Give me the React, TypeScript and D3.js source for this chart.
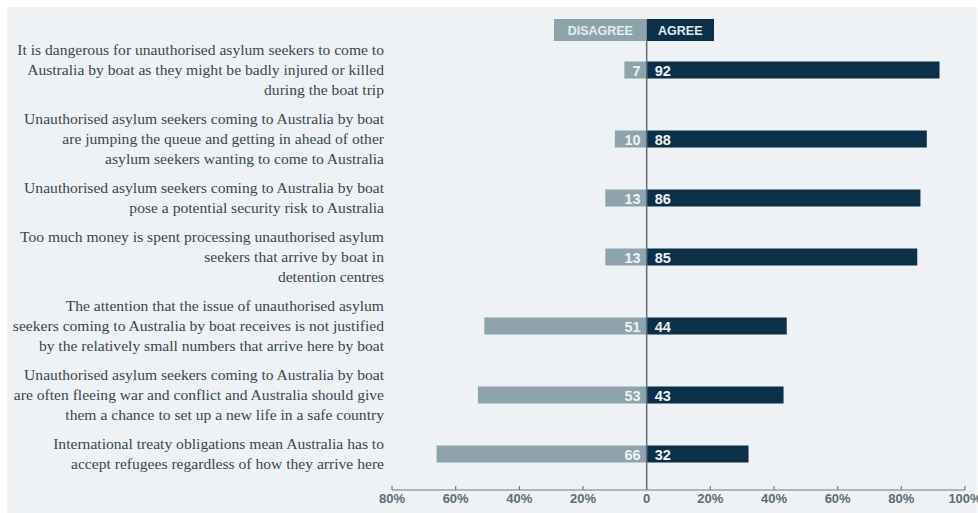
import React from "react";
import * as d3 from "d3";

const statements: string[][] = [
  ["It is dangerous for unauthorised asylum seekers to come to", "Australia by boat as they might be badly injured or killed", "during the boat trip"],
  ["Unauthorised asylum seekers coming to Australia by boat", "are jumping the queue and getting in ahead of other", "asylum seekers wanting to come to Australia"],
  ["Unauthorised asylum seekers coming to Australia by boat", "pose a potential security risk to Australia"],
  ["Too much money is spent processing unauthorised asylum", "seekers that arrive by boat in", "detention centres"],
  ["The attention that the issue of unauthorised asylum", "seekers coming to Australia by boat receives is not justified", "by the relatively small numbers that arrive here by boat"],
  ["Unauthorised asylum seekers coming to Australia by boat", "are often fleeing war and conflict and Australia should give", "them a chance to set up a new life in a safe country"],
  ["International treaty obligations mean Australia has to", "accept refugees regardless of how they arrive here"],
];
const disagree = [7, 10, 13, 13, 51, 53, 66];
const agree = [92, 88, 86, 85, 44, 43, 32];
const tickValues = [-80, -60, -40, -20, 0, 20, 40, 60, 80, 100];
const tickLabels = ["80%", "60%", "40%", "20%", "0", "20%", "40%", "60%", "80%", "100%"];

const W = 978;
const H = 513;
const LINE = 20;
const GAP = 9;

export default function App() {
  const x = d3.scaleLinear().domain([-80, 100]).range([392, 965]);
  const zero = x(0);
  const centers: number[] = [];
  statements.forEach((s, i) => {
    const c =
      i === 0
        ? 50 + ((s.length - 1) * LINE) / 2
        : centers[i - 1] + (statements[i - 1].length * LINE) / 2 + (s.length * LINE) / 2 + GAP;
    centers.push(c);
  });
  const barH = 17;
  const axisY = 490;
  const dark = "#0b3149";
  const light = "#8ea4ac";
  const sans = "Liberation Sans, Arial, sans-serif";
  const serif = "Liberation Serif, serif";

  return (
    <svg width={W} height={H} style={{ position: "absolute", left: 0, top: 0 }}>
      <rect x={0} y={0} width={W} height={H} fill="#ffffff" />
      <rect x={7} y={7} width={970} height={506} fill="#eef2f5" />
      <rect x={554} y={19} width={zero - 554} height={22} fill={light} />
      <rect x={zero} y={19} width={714 - zero} height={22} fill={dark} />
      <text x={(554 + zero) / 2} y={35} textAnchor="middle" fontFamily={sans} fontWeight="bold" fontSize={12.5} fill="#e4ebee">DISAGREE</text>
      <text x={(714 + zero) / 2} y={35} textAnchor="middle" fontFamily={sans} fontWeight="bold" fontSize={12.5} fill="#e4ebee">AGREE</text>
      {statements.map((s, i) => (
        <text key={"l" + i} textAnchor="end" fontFamily={serif} fontSize={15.6} fill="#38474f">
          {s.map((line, j) => (
            <tspan key={j} x={384} y={centers[i] + (j - (s.length - 1) / 2) * LINE + 5}>{line}</tspan>
          ))}
        </text>
      ))}
      {disagree.map((v, i) => (
        <g key={"b" + i}>
          <rect x={x(-v)} y={centers[i] - barH / 2} width={zero - x(-v)} height={barH} fill={light} />
          <rect x={zero} y={centers[i] - barH / 2} width={x(agree[i]) - zero} height={barH} fill={dark} />
          <text x={zero - 6} y={centers[i] + 5.5} textAnchor="end" fontFamily={sans} fontWeight="bold" fontSize={14.5} fill="#eef3f5">{v}</text>
          <text x={zero + 8} y={centers[i] + 5.5} textAnchor="start" fontFamily={sans} fontWeight="bold" fontSize={14.5} fill="#eef3f5">{agree[i]}</text>
        </g>
      ))}
      <line x1={zero} x2={zero} y1={41} y2={axisY} stroke="#5c6f79" strokeWidth={1.5} />
      <line x1={x(-80)} x2={x(100)} y1={axisY} y2={axisY} stroke="#6d7f88" strokeWidth={1.2} />
      {tickValues.map((t, i) => (
        <g key={"t" + i}>
          <line x1={x(t)} x2={x(t)} y1={axisY} y2={axisY - 4} stroke="#6d7f88" strokeWidth={1.2} />
          <text x={x(t)} y={axisY + 13} textAnchor="middle" fontFamily={sans} fontWeight="bold" fontSize={13} fill="#5a6d77">{tickLabels[i]}</text>
        </g>
      ))}
    </svg>
  );
}
